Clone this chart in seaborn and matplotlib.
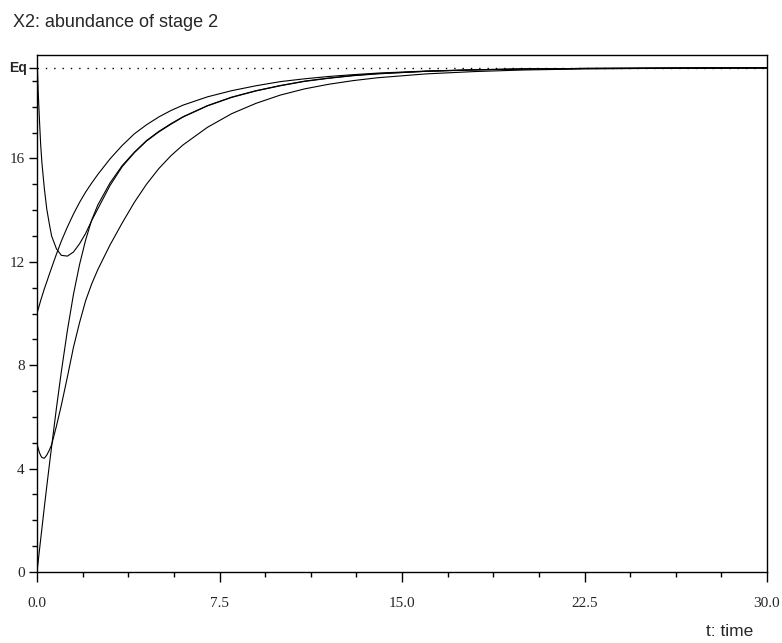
import numpy as np
import pandas as pd
import matplotlib
matplotlib.use("Agg")
import matplotlib.pyplot as plt
import seaborn as sns
from matplotlib.ticker import FixedLocator

# ---- data ----
t = [0, 0.05, 0.1, 0.15, 0.2, 0.3, 0.4, 0.5, 0.6, 0.8, 1.0, 1.25, 1.5, 1.75,
     2.0, 2.25, 2.5, 3.0, 3.5, 4.0, 4.5, 5.0, 5.5, 6.0, 7.0, 8.0, 9.0, 10, 11,
     12, 13, 14, 16, 18, 20, 22.5, 25, 27.5, 30]

x2_from_20 = [20.0, 18.55, 17.5, 16.55, 15.85, 14.85, 14.05, 13.5, 13.0, 12.5,
              12.25, 12.22, 12.38, 12.7, 13.1, 13.6, 14.05, 14.95, 15.68, 16.22,
              16.67, 17.02, 17.32, 17.6, 18.03, 18.36, 18.61, 18.81, 18.98,
              19.1, 19.2, 19.27, 19.37, 19.42, 19.46, 19.48, 19.49, 19.5, 19.5]

x2_from_10 = [10.0, 10.17, 10.33, 10.5, 10.65, 10.95, 11.22, 11.5, 11.77, 12.3,
              12.8, 13.35, 13.85, 14.3, 14.7, 15.05, 15.38, 15.98, 16.5, 16.95,
              17.3, 17.6, 17.85, 18.06, 18.38, 18.62, 18.81, 18.97, 19.08,
              19.17, 19.24, 19.3, 19.38, 19.43, 19.46, 19.48, 19.49, 19.5, 19.5]

x2_from_5 = [4.97, 4.78, 4.62, 4.51, 4.43, 4.4, 4.52, 4.7, 4.92, 5.65,
             6.45, 7.55, 8.7, 9.65, 10.5, 11.15, 11.7, 12.65, 13.5, 14.3,
             15.0, 15.6, 16.1, 16.52, 17.2, 17.73, 18.13, 18.45, 18.69,
             18.87, 19.01, 19.12, 19.27, 19.36, 19.42, 19.46, 19.48, 19.49, 19.5]

x2_from_0 = [0.0, 0.42, 0.84, 1.26, 1.67, 2.5, 3.3, 4.08, 4.85, 6.35,
             7.75, 9.35, 10.75, 11.9, 12.85, 13.62, 14.2, 15.05, 15.72, 16.24,
             16.69, 17.04, 17.34, 17.61, 18.04, 18.37, 18.62, 18.82, 18.99,
             19.11, 19.21, 19.28, 19.37, 19.43, 19.46, 19.48, 19.49, 19.5, 19.5]

eq_value = 19.5
y_major = [0, 4, 8, 12, 16, eq_value]
y_labels = ["0", "4", "8", "12", "16", ""]
eq_label = "Eq"
x_major = [0.0, 7.5, 15.0, 22.5, 30.0]
x_labels = ["0.0", "7.5", "15.0", "22.5", "30.0"]

series = {"20": x2_from_20, "10": x2_from_10, "5": x2_from_5, "0": x2_from_0}
df = pd.concat([pd.DataFrame({"t": t, "X2": v, "init": k}) for k, v in series.items()],
               ignore_index=True)

# ---- figure ----
sns.set_style("ticks")
W, H = 782, 643
fig = plt.figure(figsize=(W / 100, H / 100), dpi=100)
ax = fig.add_axes([37 / W, 1 - 572 / H, (767 - 37) / W, (572 - 55) / H])

sns.lineplot(data=df, x="t", y="X2", hue="init", palette=["black"] * 4,
             legend=False, ax=ax, linewidth=0.8, estimator=None, sort=False)

ax.axhline(eq_value, color="black", linestyle=(0, (1, 5)), linewidth=1.0)

ax.set_xlim(0, 30)
ax.set_ylim(0, 20)
ax.set_xlabel("")
ax.set_ylabel("")

for s in ax.spines.values():
    s.set_visible(True)
    s.set_linewidth(1.0)
    s.set_color("black")

ax.xaxis.set_major_locator(FixedLocator(x_major))
ax.xaxis.set_minor_locator(FixedLocator([i * 1.875 for i in range(17)]))
ax.set_xticklabels(x_labels)
ax.yaxis.set_major_locator(FixedLocator(y_major))
ax.yaxis.set_minor_locator(FixedLocator([v for v in range(0, 20) if v % 4 != 0]))
ax.set_yticklabels(y_labels)

ax.tick_params(axis="both", which="minor", direction="out", length=3.7, width=1.0,
               color="black", top=False, right=False)
ax.tick_params(axis="x", which="major", direction="out", length=7, width=1.0,
               pad=11, color="black", top=False)
ax.tick_params(axis="y", which="major", direction="out", length=6, width=1.0,
               pad=3, color="black", right=False)

for lab in ax.get_xticklabels() + ax.get_yticklabels():
    lab.set_fontfamily("Liberation Serif")
    lab.set_fontsize(11)

ax.annotate(eq_label, xy=(0, eq_value), xycoords=("axes fraction", "data"),
            xytext=(-10, 0), textcoords="offset pixels", ha="right", va="center",
            family="Liberation Sans", fontweight="bold", fontsize=10)

fig.text(13 / W, 1 - 27 / H, "X2: abundance of stage 2", family="Liberation Sans",
         fontsize=13, ha="left", va="baseline")
fig.text(753 / W, 1 - 636 / H, "t: time", family="Liberation Sans",
         fontsize=12.5, ha="right", va="baseline")

fig.savefig("out.png", dpi=100, facecolor="white")
